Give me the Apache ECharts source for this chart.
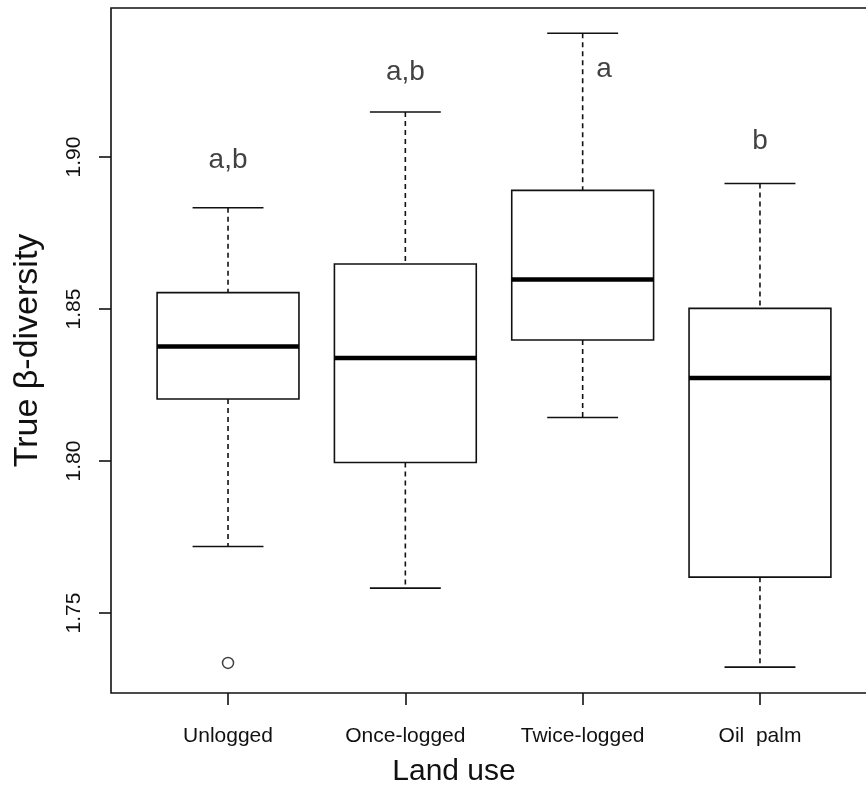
<!DOCTYPE html>
<html>
<head>
<meta charset="utf-8">
<script src="https://cdn.jsdelivr.net/npm/echarts@6/dist/echarts.min.js"></script>
<style>
html,body{margin:0;padding:0;background:#fff;}
#chart{width:866px;height:786px;}
</style>
</head>
<body>
<div id="chart"></div>
<script>
// ---- data ----
var categories = ['Unlogged', 'Once-logged', 'Twice-logged', 'Oil  palm'];
var whiskerLow  = [1.7719, 1.7582, 1.8143, 1.7322];
var quartile1   = [1.8204, 1.7995, 1.8398, 1.7618];
var medians     = [1.8377, 1.8339, 1.8597, 1.8273];
var quartile3   = [1.8554, 1.8648, 1.8890, 1.8502];
var whiskerHigh = [1.8833, 1.9148, 1.9407, 1.8913];
var outlierCat  = [1];
var outlierVal  = [1.7336];
var letters     = ['a,b', 'a,b', 'a', 'b'];
var letterX     = [1, 2, 3.12, 4];
var letterY     = [1.899, 1.928, 1.929, 1.905];
var yTicks      = [1.75, 1.80, 1.85, 1.90];

var FONT = 'Liberation Sans, Arial, Helvetica, sans-serif';
var INK = '#111';

var boxData = categories.map(function (c, i) {
  return [i + 1, whiskerLow[i], quartile1[i], medians[i], quartile3[i], whiskerHigh[i]];
});
var outlierData = outlierCat.map(function (c, i) { return [c, outlierVal[i]]; });
var letterData = letters.map(function (t, i) { return [letterX[i], letterY[i]]; });

function renderBox(params, api) {
  var x = api.value(0);
  var pLow = api.coord([x, api.value(1)]);
  var pQ1 = api.coord([x, api.value(2)]);
  var pMed = api.coord([x, api.value(3)]);
  var pQ3 = api.coord([x, api.value(4)]);
  var pHigh = api.coord([x, api.value(5)]);
  var halfBox = api.size([0.4, 0])[0];
  var halfCap = api.size([0.2, 0])[0];
  var cx = pMed[0];
  var lw = 1.6;
  return {
    type: 'group',
    children: [
      { type: 'line', shape: { x1: cx, y1: pHigh[1], x2: cx, y2: pQ3[1] },
        style: { stroke: INK, lineWidth: lw, lineDash: [5, 4] } },
      { type: 'line', shape: { x1: cx, y1: pQ1[1], x2: cx, y2: pLow[1] },
        style: { stroke: INK, lineWidth: lw, lineDash: [5, 4] } },
      { type: 'line', shape: { x1: cx - halfCap, y1: pHigh[1], x2: cx + halfCap, y2: pHigh[1] },
        style: { stroke: INK, lineWidth: lw } },
      { type: 'line', shape: { x1: cx - halfCap, y1: pLow[1], x2: cx + halfCap, y2: pLow[1] },
        style: { stroke: INK, lineWidth: lw } },
      { type: 'rect', shape: { x: cx - halfBox, y: pQ3[1], width: 2 * halfBox, height: pQ1[1] - pQ3[1] },
        style: { fill: '#fff', stroke: INK, lineWidth: lw } },
      { type: 'line', shape: { x1: cx - halfBox, y1: pMed[1], x2: cx + halfBox, y2: pMed[1] },
        style: { stroke: '#000', lineWidth: 4.5 } }
    ]
  };
}

var chart = echarts.init(document.getElementById('chart'), null, { renderer: 'canvas' });
chart.setOption({
  backgroundColor: '#fff',
  animation: false,
  grid: {
    left: 111, top: 8, width: 766, bottom: 93,
    outerBoundsMode: 'none', containLabel: false,
    show: true, borderColor: INK, borderWidth: 1.6, backgroundColor: 'transparent'
  },
  xAxis: {
    type: 'value', min: 0.34, max: 4.66,
    name: 'Land use', nameLocation: 'middle', nameGap: 64,
    nameTextStyle: { fontFamily: FONT, fontSize: 30, color: INK, padding: [0, 80, 0, 0] },
    axisLine: { show: false },
    splitLine: { show: false },
    axisTick: { show: true, length: 12, inside: false, customValues: [1, 2, 3, 4],
      lineStyle: { color: INK, width: 1.6 } },
    axisLabel: { show: true, margin: 33, customValues: [1, 2, 3, 4],
      fontFamily: FONT, fontSize: 21, color: INK,
      formatter: function (v) { return categories[Math.round(v) - 1] || ''; } }
  },
  yAxis: {
    type: 'value', min: 1.7237, max: 1.9490,
    name: 'True β-diversity', nameLocation: 'middle', nameGap: 66, nameRotate: 90,
    nameTextStyle: { fontFamily: FONT, fontSize: 34, color: INK },
    axisLine: { show: false },
    splitLine: { show: false },
    axisTick: { show: true, length: 12, customValues: yTicks,
      lineStyle: { color: INK, width: 1.6 } },
    axisLabel: { show: true, margin: 26, rotate: 90, customValues: yTicks,
      fontFamily: FONT, fontSize: 21, color: INK,
      formatter: function (v) { return v.toFixed(2); } }
  },
  series: [
    { type: 'custom', renderItem: renderBox, data: boxData,
      encode: { x: 0, y: [1, 2, 3, 4, 5] }, clip: false, silent: true },
    { type: 'scatter', data: outlierData, symbol: 'circle', symbolSize: 11,
      itemStyle: { color: '#fff', borderColor: INK, borderWidth: 1.5 }, silent: true },
    { type: 'scatter', data: letterData, symbolSize: 0, silent: true,
      label: { show: true, position: 'inside', fontFamily: FONT, fontSize: 28, color: INK,
        formatter: function (p) { return letters[p.dataIndex]; } } }
  ]
});
</script>
</body>
</html>
